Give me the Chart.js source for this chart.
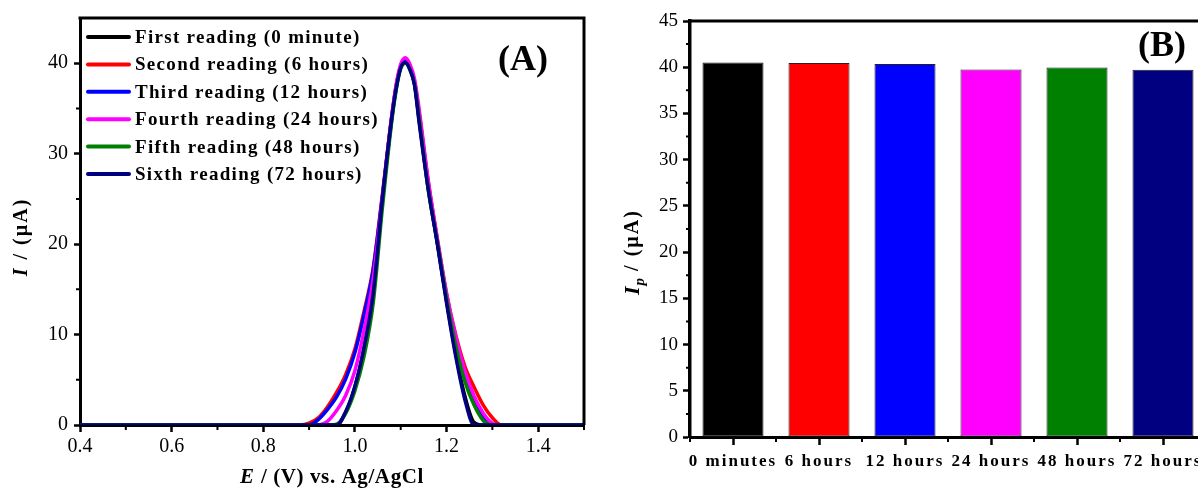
<!DOCTYPE html>
<html>
<head>
<meta charset="utf-8">
<script src="https://cdn.jsdelivr.net/npm/chart.js@4.4.1/dist/chart.umd.min.js"></script>
<style>
  html, body { margin: 0; padding: 0; background: #fff; overflow: hidden; width: 1198px; height: 495px; }
  canvas { position: absolute; top: 0; }
</style>
</head>
<body>
<canvas id="chartA" width="600" height="495" style="left:0"></canvas>
<canvas id="chartB" width="620" height="495" style="left:600px"></canvas>
<script>
// ---- panel A: DPV curves, I (uA) against E (V)
const potential = [0.40, 0.86, 0.88, 0.90, 0.92, 0.94, 0.96, 0.98, 1.00, 1.02, 1.04, 1.06, 1.08, 1.09, 1.10,
  1.11, 1.12, 1.13, 1.14, 1.16, 1.18, 1.20, 1.22, 1.24, 1.26, 1.28, 1.30, 1.32, 1.34, 1.50];

const firstReading = [0, 0, 0, 0, 0, 0, 0, 1.4, 4.2, 8.4, 14.4, 24.8, 33.7, 37.3, 39.6,
  40.3, 39.5, 37.8, 33.8, 26.2, 20.1, 13.7, 7.9, 3.2, 0.3, 0, 0, 0, 0, 0];
const secondReading = [0, 0, 0, 0.2, 0.8, 2.0, 3.6, 5.6, 8.4, 12.6, 17.4, 25.5, 34.0, 37.5, 39.7,
  40.4, 39.6, 38.0, 34.6, 27.0, 20.5, 14.5, 10.0, 6.5, 4.2, 2.2, 0.8, 0, 0, 0];
const thirdReading = [0, 0, 0, 0, 0.6, 1.7, 3.1, 5.1, 8.0, 12.2, 17.2, 25.3, 33.9, 37.4, 39.6,
  40.2, 39.4, 37.8, 34.4, 26.5, 20.2, 14.0, 9.0, 5.2, 2.8, 1.0, 0, 0, 0, 0];
const fourthReading = [0, 0, 0, 0, 0, 0.4, 1.6, 3.3, 6.0, 10.5, 16.2, 25.0, 34.0, 37.6, 39.9,
  40.6, 39.9, 38.3, 35.0, 27.0, 20.6, 14.6, 9.8, 6.0, 3.2, 1.3, 0.2, 0, 0, 0];
const fifthReading = [0, 0, 0, 0, 0, 0, 0.1, 1.3, 3.8, 7.6, 13.5, 24.0, 33.4, 37.0, 39.4,
  40.0, 39.3, 37.7, 34.0, 26.0, 20.2, 14.0, 8.8, 4.8, 2.2, 0.5, 0, 0, 0, 0];
const sixthReading = [0, 0, 0, 0, 0, 0, 0, 1.5, 4.3, 8.6, 14.6, 25.0, 33.8, 37.2, 39.5,
  40.1, 39.3, 37.6, 33.5, 26.1, 20.0, 13.5, 7.6, 2.8, 0, 0, 0, 0, 0, 0];

const readingNames = ['First reading (0 minute)', 'Second reading (6 hours)', 'Third reading (12 hours)',
  'Fourth reading (24 hours)', 'Fifth reading (48 hours)', 'Sixth reading (72 hours)'];
const readingColors = ['#000000', '#ff0000', '#0000ff', '#ff00ff', '#008000', '#000080'];
const readings = [firstReading, secondReading, thirdReading, fourthReading, fifthReading, sixthReading];

const xMinorA = [0.5, 0.7, 0.9, 1.1, 1.3, 1.5];
const yMinorA = [5, 15, 25, 35];

// ---- panel B: peak currents
const barLabels = ['0 minutes', '6 hours', '12 hours', '24 hours', '48 hours', '72 hours'];
const peakCurrent = [40.5, 40.45, 40.35, 39.75, 39.97, 39.72];
const yMinorB = [2.5, 7.5, 12.5, 17.5, 22.5, 27.5, 32.5, 37.5, 42.5];

const serif = "'Liberation Serif', 'Times New Roman', serif";

function drawRuns(ctx, runs, cx, cy, rotate) {
  ctx.save();
  ctx.translate(cx, cy);
  if (rotate) ctx.rotate(-Math.PI / 2);
  ctx.textAlign = 'left';
  ctx.textBaseline = 'middle';
  ctx.fillStyle = '#000';
  let total = 0;
  runs.forEach(r => { ctx.font = r.font; ctx.letterSpacing = r.ls || '0px'; total += ctx.measureText(r.text).width; });
  let x = -total / 2;
  runs.forEach(r => {
    ctx.font = r.font;
    ctx.letterSpacing = r.ls || '0px';
    ctx.fillText(r.text, x, r.dy || 0);
    x += ctx.measureText(r.text).width;
  });
  ctx.restore();
}

// box, minor ticks and text that Chart.js cannot lay out itself
const decorate = {
  id: 'decorate',
  afterDatasetsDraw(chart, args, opts) {
    if (opts.spacedTicks) chart.ctx.letterSpacing = opts.spacedTicks;
  },
  afterDraw(chart, args, opts) {
    const ctx = chart.ctx;
    const a = chart.chartArea;
    const xs = chart.scales.x, ys = chart.scales.y;
    ctx.letterSpacing = '0px';
    ctx.save();
    ctx.strokeStyle = '#000';
    ctx.lineWidth = 3;
    ctx.beginPath();
    ctx.moveTo(a.left - 1.5, a.top);
    ctx.lineTo(a.right, a.top);
    ctx.lineTo(a.right, a.bottom);
    ctx.stroke();

    ctx.lineWidth = 2;
    ctx.beginPath();
    (opts.minorX || []).forEach(v => {
      const px = xs.getPixelForValue(v);
      ctx.moveTo(px, a.bottom);
      ctx.lineTo(px, a.bottom + 5);
    });
    (opts.minorY || []).forEach(v => {
      const py = ys.getPixelForValue(v);
      ctx.moveTo(a.left, py);
      ctx.lineTo(a.left - 4, py);
    });
    ctx.stroke();
    ctx.restore();
    if (opts.extra) opts.extra(chart, ctx, a);
  }
};
Chart.register(decorate);

new Chart(document.getElementById('chartA'), {
  type: 'line',
  data: {
    datasets: readings.map((vals, i) => ({
      label: readingNames[i],
      data: vals.map((v, j) => ({ x: potential[j], y: v })),
      borderColor: readingColors[i],
      borderWidth: 3.5,
      pointRadius: 0,
      cubicInterpolationMode: 'monotone',
      order: 5 - i
    }))
  },
  options: {
    responsive: false,
    animation: false,
    layout: { padding: { top: 15, right: 16, left: 0, bottom: 0 } },
    plugins: {
      legend: { display: false },
      tooltip: { enabled: false },
      decorate: {
        minorX: xMinorA,
        minorY: yMinorA,
        extra(chart, ctx, a) {
          ctx.save();
          ctx.lineCap = 'round';
          ctx.lineWidth = 4;
          ctx.textAlign = 'left';
          ctx.textBaseline = 'middle';
          ctx.font = 'bold 19px ' + serif;
          ctx.letterSpacing = '1.3px';
          readingNames.forEach((name, i) => {
            const y = 37 + i * 27.4;
            ctx.strokeStyle = readingColors[i];
            ctx.beginPath();
            ctx.moveTo(88, y);
            ctx.lineTo(129, y);
            ctx.stroke();
            ctx.fillStyle = '#000';
            ctx.fillText(name, 135, y + 1);
          });
          ctx.letterSpacing = '0px';
          ctx.font = 'bold 36px ' + serif;
          ctx.textAlign = 'center';
          ctx.fillText('(A)', 523, 61);
          ctx.restore();
          drawRuns(ctx, [
            { text: 'E', font: 'italic bold 21px ' + serif, ls: '1px' },
            { text: ' / (V) vs. Ag/AgCl', font: 'bold 21px ' + serif, ls: '0.6px' }
          ], 332, 478, false);
          drawRuns(ctx, [
            { text: 'I', font: 'italic bold 20px ' + serif, ls: '2px' },
            { text: ' / (\u00b5A)', font: 'bold 20px ' + serif, ls: '2px' }
          ], 22, 237, true);
        }
      }
    },
    scales: {
      x: {
        type: 'linear',
        min: 0.4,
        max: 1.5,
        afterFit(s) { s.height = 70; },
        border: { color: '#000', width: 3 },
        grid: { drawOnChartArea: false, tickLength: 7, tickWidth: 2.5, tickColor: '#000' },
        ticks: {
          stepSize: 0.2,
          includeBounds: false,
          maxRotation: 0,
          padding: 3,
          color: '#000',
          font: { family: serif, size: 20 },
          callback: v => v.toFixed(1)
        }
      },
      y: {
        min: 0,
        max: 45,
        afterFit(s) { s.width = 80; },
        border: { color: '#000', width: 3 },
        grid: { drawOnChartArea: false, tickLength: 6, tickWidth: 2.5, tickColor: '#000' },
        ticks: {
          stepSize: 10,
          includeBounds: false,
          padding: 6,
          color: '#000',
          font: { family: serif, size: 20 }
        }
      }
    }
  }
});

new Chart(document.getElementById('chartB'), {
  type: 'bar',
  data: {
    labels: barLabels,
    datasets: [{
      data: peakCurrent,
      backgroundColor: readingColors,
      borderColor: '#222',
      borderWidth: 1,
      borderSkipped: false,
      barPercentage: 0.71,
      categoryPercentage: 1
    }]
  },
  options: {
    responsive: false,
    animation: false,
    layout: { padding: { top: 21, right: 14, left: 0, bottom: 0 } },
    plugins: {
      legend: { display: false },
      tooltip: { enabled: false },
      decorate: {
        spacedTicks: '2px',
        minorY: yMinorB,
        minorX: [-0.5, 0.5, 1.5, 2.5, 3.5, 4.5, 5.5],
        extra(chart, ctx, a) {
          ctx.save();
          ctx.font = 'bold 36px ' + serif;
          ctx.textAlign = 'center';
          ctx.textBaseline = 'middle';
          ctx.fillStyle = '#000';
          ctx.fillText('(B)', 562, 47);
          ctx.restore();
          drawRuns(ctx, [
            { text: 'I', font: 'italic bold 22px ' + serif, ls: '1px' },
            { text: 'p', font: 'italic bold 15px ' + serif, dy: 7 },
            { text: ' / (\u00b5A)', font: 'bold 20px ' + serif, ls: '2px' }
          ], 33, 252, true);
        }
      }
    },
    scales: {
      x: {
        offset: true,
        afterFit(s) { s.height = 58; },
        border: { color: '#000', width: 3 },
        grid: { offset: false, drawOnChartArea: false, tickLength: 8, tickWidth: 2.5, tickColor: '#000' },
        ticks: {
          z: 1,
          autoSkip: false,
          maxRotation: 0,
          padding: 6,
          color: '#000',
          font: { family: serif, size: 17, weight: 'bold' }
        }
      },
      y: {
        min: 0,
        max: 45,
        afterFit(s) { s.width = 90; },
        border: { color: '#000', width: 3.5 },
        grid: { drawOnChartArea: false, tickLength: 7, tickWidth: 2.5, tickColor: '#000' },
        ticks: {
          stepSize: 5,
          padding: 5,
          color: '#000',
          font: { family: serif, size: 19 }
        }
      }
    }
  }
});
</script>
</body>
</html>
